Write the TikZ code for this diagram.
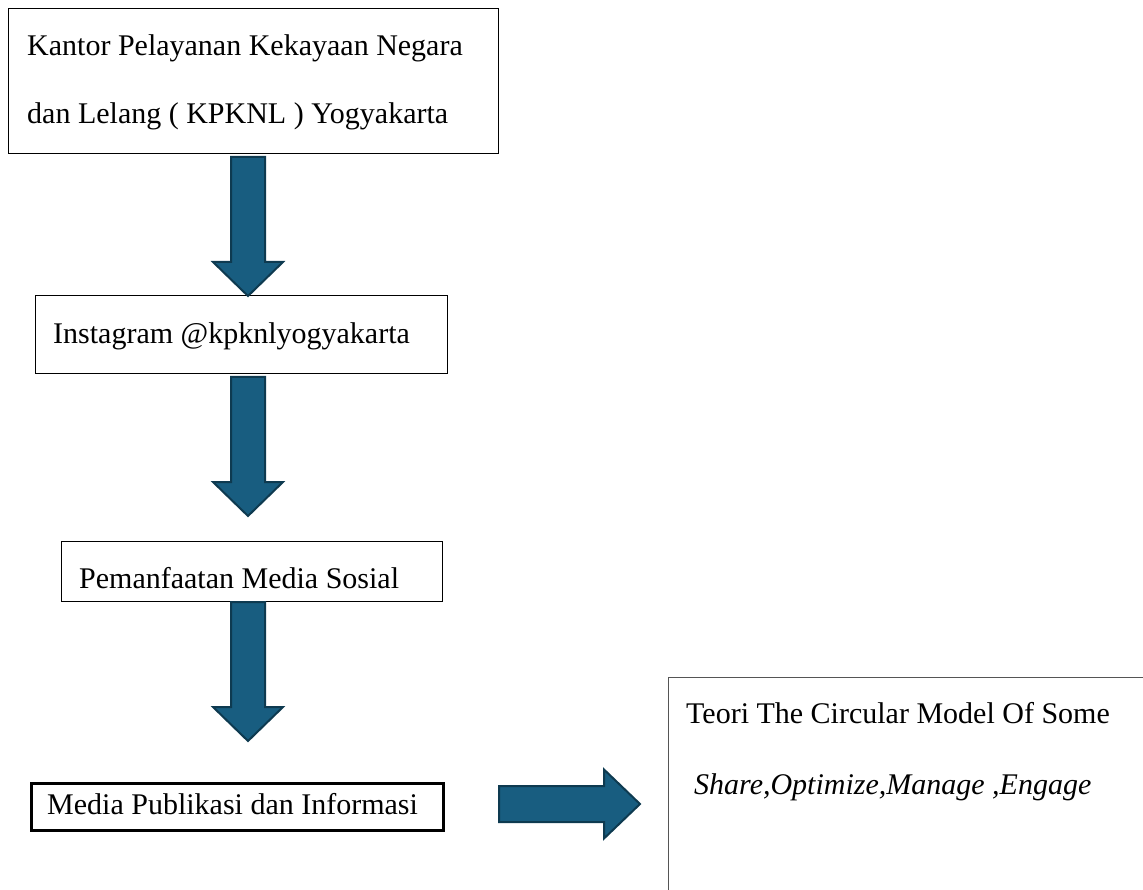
\documentclass[tikz,border=0pt]{standalone}
\usepackage{fontspec}
\setmainfont{Liberation Serif}
\usepackage{tikz}
\usetikzlibrary{calc}
\definecolor{arrowfill}{HTML}{185D80}
\definecolor{arrowline}{HTML}{0E3A50}
\definecolor{framegray}{HTML}{555555}

\newcommand\blockdown[2]{%
  \draw[blockarrow] let \p1=(#1), \p2=(#2) in
    (\x1-17,\y1) -- (\x1+17,\y1) -- (\x1+17,\y2+34) -- (\x1+35,\y2+34)
    -- (\x1,\y2) -- (\x1-35,\y2+34) -- (\x1-17,\y2+34) -- cycle;}
\newcommand\blockright[2]{%
  \draw[blockarrow] let \p1=(#1), \p2=(#2) in
    (\x1,\y1+18) -- (\x2-36,\y1+18) -- (\x2-36,\y1+34.5) -- (\x2,\y1)
    -- (\x2-36,\y1-34.5) -- (\x2-36,\y1-18) -- (\x1,\y1-18) -- cycle;}

\begin{document}
\begin{tikzpicture}[x=1pt,y=-1pt,
    box/.style={draw=black,line width=1.3pt,rectangle,anchor=north west,inner sep=0pt},
    txt/.style={anchor=west,inner sep=0pt,align=left,font=\fontsize{30}{68}\selectfont},
    blockarrow/.style={fill=arrowfill,draw=arrowline,line width=2pt,line join=miter}]
    \clip (0,0) rectangle (1143,890);
    \useasboundingbox (0,0) rectangle (1143,890);

    % boxes
    \node[box,minimum width=490pt,minimum height=145pt] (kpknl) at (8,8) {};
    \node[box,minimum width=412pt,minimum height=78pt] (insta) at (35,295) {};
    \node[box,minimum width=381pt,minimum height=60pt] (medsos) at (61,541) {};
    \node[box,line width=2.5pt,minimum width=412pt,minimum height=47pt] (publikasi) at (30,782) {};
    \node[box,draw=framegray,minimum width=520pt,minimum height=260pt] (teoriframe) at (668,677) {};

    % texts
    \node[txt] (kpknltxt) at ($(kpknl.west)+(19,1.5)$)
      {Kantor Pelayanan Kekayaan Negara\\dan Lelang ( KPKNL ) Yogyakarta};
    \node[txt] (instatxt) at ($(insta.west)+(18,2)$) {Instagram @kpknlyogyakarta};
    \node[txt] (medsostxt) at ($(medsos.west)+(18,6)$) {Pemanfaatan Media Sosial};
    \node[txt] (publikasitxt) at ($(publikasi.west)+(17,-2.5)$) {Media Publikasi dan Informasi};
    \node[txt] (teori) at ($(teoriframe.north west)+(18,36)$)
      {Teori The Circular Model Of Some};
    \node[txt] (some) at ($(teoriframe.north west)+(26,110)$)
      {\textit{Share,Optimize,Manage ,Engage}};

    % arrows
    \coordinate (a1top) at (248,157);
    \coordinate (a1tip) at (248,296);
    \coordinate (a2top) at (248,377);
    \coordinate (a2tip) at (248,516);
    \coordinate (a3top) at (248,602);
    \coordinate (a3tip) at (248,741);
    \coordinate (a4tail) at (499,804);
    \coordinate (a4tip) at (640,804);

    \blockdown{a1top}{a1tip}
    \blockdown{a2top}{a2tip}
    \blockdown{a3top}{a3tip}
    \blockright{a4tail}{a4tip}
  \end{tikzpicture}
\end{document}
